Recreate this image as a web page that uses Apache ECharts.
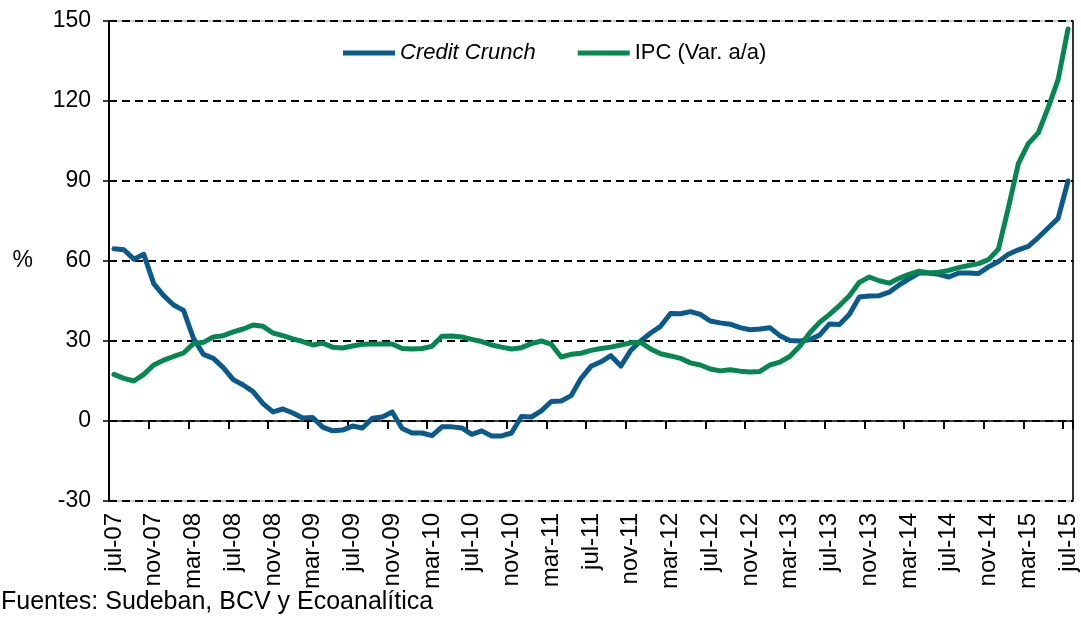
<!DOCTYPE html>
<html>
<head>
<meta charset="utf-8">
<script src="https://cdn.jsdelivr.net/npm/echarts@6/dist/echarts.min.js"></script>
<style>
  html, body { margin: 0; padding: 0; background: #fff; }
  #chart { width: 1081px; height: 621px; }
</style>
</head>
<body>
<div id="chart"></div>
<script>
  // monthly, jul-07 .. jul-15
  const monthNames = ['ene', 'feb', 'mar', 'abr', 'may', 'jun', 'jul', 'ago', 'sep', 'oct', 'nov', 'dic']
  const startYear = 2007
  const startMonth = 6
  const monthCount = 97

  const yTicks = [-30, 0, 30, 60, 90, 120, 150]

  const creditCrunch = [
    64.6, 64.2, 60.7, 62.5, 51.5, 47, 43.5, 41.5, 31, 25, 23.5, 20,
    15.5, 13.5, 11, 6.5, 3.4, 4.5, 3, 1.1, 1.3, -2.3, -3.7, -3.4,
    -1.9, -2.6, 1, 1.5, 3.4, -2.8, -4.5, -4.5, -5.5, -2.2, -2.2, -2.6,
    -5, -3.7, -5.6, -5.6, -4.5, 1.7, 1.5, 3.8, 7.3, 7.5, 9.5, 16,
    20.5, 22.2, 24.5, 20.6, 26.5, 30, 33, 35.5, 40.3, 40.2, 41, 40,
    37.5, 36.8, 36.3, 35, 34.2, 34.5, 35, 32, 30.2, 30, 30.5, 32.2,
    36.4, 36.2, 40, 46.5, 46.9, 47, 48.3, 51, 53.3, 55.5, 55.5, 55,
    54, 55.5, 55.5, 55.3, 57.8, 59.8, 62.5, 64.2, 65.5, 68.8, 72.4, 76,
    90
  ]

  const ipc = [
    17.5, 16, 15, 17.5, 21, 22.8, 24.2, 25.5, 29, 29.5, 31.5, 32,
    33.4, 34.5, 36, 35.5, 33, 32, 30.8, 29.8, 28.5, 29.2, 27.7, 27.4,
    28.1, 28.8, 28.9, 28.9, 28.9, 27.2, 27, 27.2, 28, 31.8, 31.9, 31.5,
    30.6, 29.8, 28.5, 27.7, 27, 27.5, 29, 30, 28.8, 24, 25, 25.4,
    26.5, 27.2, 27.7, 28.5, 29.3, 29.5, 27, 25.2, 24.4, 23.5, 21.8, 21,
    19.5, 18.8, 19.2, 18.7, 18.4, 18.6, 21, 22.1, 24.2, 28, 33, 37,
    40, 43.3, 47, 52, 54, 52.6, 51.7, 53.5, 55, 56.2, 55.5, 55.8,
    56.5, 57.5, 58.3, 59, 60.5, 64.5, 80, 96.5, 104, 108, 117.5, 128,
    147
  ]

  const months = []
  for (let i = 0; i < monthCount; i++) {
    const m = (startMonth + i) % 12
    const y = startYear + Math.floor((startMonth + i) / 12)
    months.push(monthNames[m] + '-' + String(y % 100).padStart(2, '0'))
  }

  const font = 'Liberation Sans, Arial, sans-serif'
  const chart = echarts.init(document.getElementById('chart'), null, { renderer: 'canvas' })

  chart.setOption({
    animation: false,
    textStyle: { fontFamily: font, color: '#000' },
    title: {
      text: 'Fuentes: Sudeban, BCV y Ecoanalítica',
      left: -4,
      bottom: 1,
      textStyle: { fontFamily: font, fontSize: 25, fontWeight: 'normal', color: '#000' }
    },
    legend: {
      left: 338,
      top: 37,
      itemWidth: 52,
      itemHeight: 5,
      itemGap: 42,
      icon: 'rect',
      data: ['Credit Crunch', 'IPC (Var. a/a)'],
      formatter: name => name === 'Credit Crunch' ? '{i|' + name + '}' : name,
      textStyle: {
        fontFamily: font,
        fontSize: 22,
        color: '#000',
        rich: { i: { fontStyle: 'italic', fontFamily: font, fontSize: 22, color: '#000' } }
      }
    },
    grid: {
      left: 109,
      right: 8,
      top: 21,
      bottom: 120,
      containLabel: false,
      outerBoundsMode: 'none',
      show: true,
      borderColor: '#999',
      borderWidth: 1
    },
    xAxis: {
      type: 'category',
      data: months,
      boundaryGap: true,
      axisLine: { onZero: true, lineStyle: { color: '#000', width: 1.5 } },
      axisTick: { show: true, interval: 3, length: 8, lineStyle: { color: '#000', width: 2 } },
      axisLabel: {
        interval: 3,
        rotate: 90,
        margin: 12,
        fontFamily: font,
        fontSize: 24,
        color: '#000'
      },
      splitLine: { show: false }
    },
    yAxis: [
      {
        type: 'value',
        min: yTicks[0],
        max: yTicks[yTicks.length - 1],
        interval: 30,
        name: '%',
        nameLocation: 'middle',
        nameRotate: 0,
        nameGap: 76,
        nameTextStyle: { fontFamily: font, fontSize: 23, color: '#000' },
        axisLine: { show: true, lineStyle: { color: '#000', width: 2 } },
        axisTick: { show: true, length: 6, lineStyle: { color: '#000', width: 1.5 } },
        axisLabel: { margin: 18, fontFamily: font, fontSize: 23, color: '#000' },
        splitLine: { show: true, lineStyle: { color: '#000', width: 2, type: [8, 5] } }
      },
      {
        type: 'value',
        position: 'right',
        min: yTicks[0],
        max: yTicks[yTicks.length - 1],
        interval: 30,
        axisLine: { show: true, lineStyle: { color: '#000', width: 1.5 } },
        axisTick: { show: false },
        axisLabel: { show: false },
        splitLine: { show: false }
      }
    ],
    series: [
      {
        name: 'Credit Crunch',
        type: 'line',
        data: creditCrunch,
        showSymbol: false,
        symbol: 'none',
        itemStyle: { color: '#0b5a8c' },
        lineStyle: { color: '#0b5a8c', width: 5, join: 'round', cap: 'round' },
        z: 3
      },
      {
        name: 'IPC (Var. a/a)',
        type: 'line',
        data: ipc,
        showSymbol: false,
        symbol: 'none',
        itemStyle: { color: '#068650' },
        lineStyle: { color: '#068650', width: 5, join: 'round', cap: 'round' },
        z: 4
      }
    ]
  })
</script>
</body>
</html>
